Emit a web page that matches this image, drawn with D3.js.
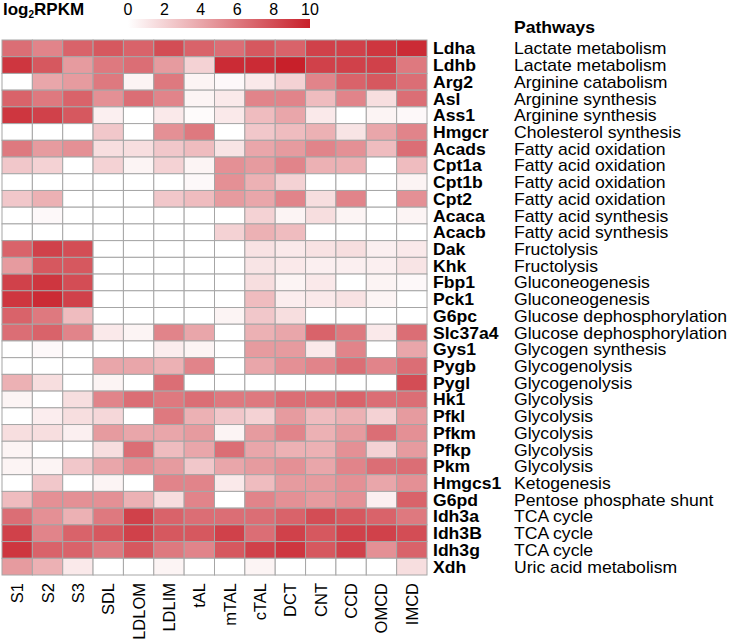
<!DOCTYPE html>
<html>
<head>
<meta charset="utf-8">
<script src="https://cdnjs.cloudflare.com/ajax/libs/d3/7.8.5/d3.min.js"></script>
<style>
  body { margin: 0; background: #fff; }
  text { font-family: "Liberation Sans", Arial, Helvetica, sans-serif; fill: #000; }
</style>
</head>
<body>
<div id="heatmap"></div>
<script>
const tissues = ["S1", "S2", "S3", "SDL", "LDLOM", "LDLIM", "tAL", "mTAL", "cTAL", "DCT", "CNT", "CCD", "OMCD", "IMCD"];

const genes = ["Ldha", "Ldhb", "Arg2", "Asl", "Ass1", "Hmgcr", "Acads", "Cpt1a", "Cpt1b", "Cpt2",
  "Acaca", "Acacb", "Dak", "Khk", "Fbp1", "Pck1", "G6pc", "Slc37a4", "Gys1", "Pygb", "Pygl",
  "Hk1", "Pfkl", "Pfkm", "Pfkp", "Pkm", "Hmgcs1", "G6pd", "Idh3a", "Idh3B", "Idh3g", "Xdh"];

const pathways = ["Lactate metabolism", "Lactate metabolism", "Arginine catabolism", "Arginine synthesis",
  "Arginine synthesis", "Cholesterol synthesis", "Fatty acid oxidation", "Fatty acid oxidation",
  "Fatty acid oxidation", "Fatty acid oxidation", "Fatty acid synthesis", "Fatty acid synthesis",
  "Fructolysis", "Fructolysis", "Gluconeogenesis", "Gluconeogenesis", "Glucose dephosphorylation",
  "Glucose dephosphorylation", "Glycogen synthesis", "Glycogenolysis", "Glycogenolysis",
  "Glycolysis", "Glycolysis", "Glycolysis", "Glycolysis", "Glycolysis", "Ketogenesis",
  "Pentose phosphate shunt", "TCA cycle", "TCA cycle", "TCA cycle", "Uric acid metabolism"];

// log2 RPKM, one row per gene, columns follow tissues
const log2rpkm = [
  [6.5, 5.5, 7, 7.5, 7, 8, 7, 6.5, 7.5, 7, 8.5, 8.5, 9, 9.5],
  [9, 7.5, 4.5, 6, 6.5, 4.5, 2, 9.5, 9.5, 10, 8.5, 8.5, 8.5, 6],
  [0, 4, 4.5, 6, 0.5, 6, 0.5, 0.3, 1, 2, 5.5, 7, 7.5, 6.5],
  [7, 6, 7, 5, 6.5, 5.5, 0.5, 1, 5.5, 5.5, 3, 5.5, 1.5, 6.5],
  [9, 8.5, 7.5, 0.7, 0, 1, 0.2, 1, 3, 4, 1, 0, 0.5, 0.3],
  [0, 0, 0, 2.5, 0, 5, 6, 0, 2.5, 3, 3.5, 1.2, 4, 5.5],
  [6, 4.5, 5, 1.5, 1.5, 2.5, 3, 1.2, 4, 4.5, 5.5, 5, 3, 6.5],
  [2.5, 2, 0, 2, 0.5, 2, 0.5, 5, 4.5, 5.5, 3.5, 3.5, 0, 3],
  [0, 0, 0, 0, 0, 0, 0.3, 5, 3.5, 2, 0, 0, 0, 0.5],
  [2.5, 3.5, 0, 0, 0, 2.5, 3, 4.5, 4, 5.5, 1.5, 5.5, 0, 5],
  [0, 0.3, 0, 0, 0, 0, 0, 0, 2, 0.5, 1.5, 0.5, 0, 0.5],
  [0, 0, 0, 0, 0, 0, 0, 2, 3.5, 3, 0, 0, 0, 0],
  [7, 8.5, 8, 0, 0, 0, 0, 0, 1.3, 1, 1.3, 1.5, 0.7, 1],
  [4.5, 7.5, 7.5, 0, 0, 0, 0, 0, 1.2, 1, 0.7, 0.7, 0.7, 1.2],
  [8.5, 9, 8, 0, 0, 0, 0, 0, 1.5, 0.5, 1, 0, 0.5, 0.3],
  [9, 9.5, 8.5, 0, 0, 0, 0, 0, 3, 0.8, 1, 1.3, 0.5, 0],
  [7, 6, 3, 0, 0, 0, 0, 0.5, 2.5, 1.5, 0, 0, 0, 0],
  [6.5, 7, 5.5, 1, 0.5, 5.5, 4, 0, 3.5, 4, 7, 6, 1, 6.5],
  [0, 0.3, 0, 0, 0, 0.8, 0.5, 0, 4.5, 4.5, 1, 5.5, 0, 4],
  [0, 0, 0, 4, 4, 3.5, 5.5, 0, 4, 5, 5.5, 6.5, 5.5, 6.5],
  [3.5, 1.5, 0, 0.5, 0, 6.5, 0, 0, 0, 0, 0, 0, 0, 8],
  [0.5, 0, 1.5, 5.5, 6.5, 6, 6.5, 6, 6, 6.5, 6.5, 7, 6.5, 6.5],
  [0, 0.8, 1.5, 1.8, 0, 6, 3.5, 2.5, 2, 4.5, 3, 3.5, 2, 4.5],
  [1.5, 1.5, 0.7, 4.5, 4, 4, 4.5, 0.5, 4.5, 5.5, 3.5, 4.5, 6.5, 5],
  [0.5, 0, 0, 1.5, 6.5, 3, 4, 6.5, 4, 3.5, 3.5, 5, 2, 4.5],
  [0.5, 0.5, 2.5, 4, 5, 4.5, 2.5, 4, 4.5, 5, 4, 5.5, 6.5, 6.5],
  [0, 2.5, 0, 0.5, 0, 5.5, 5.5, 1, 3, 4.5, 4.5, 5, 4, 5],
  [3, 5, 5, 5, 3.5, 1.5, 5.5, 0, 5.5, 5, 4.5, 5, 0.7, 7],
  [6.5, 5, 3.5, 6, 8.5, 7, 6.5, 6.5, 6.5, 7, 8, 7.5, 7, 6],
  [8.5, 5.5, 7, 7.5, 8.5, 7.5, 7.5, 8.5, 6.5, 8.5, 7.5, 8.5, 8.5, 8],
  [9, 7, 7, 6, 7.5, 6, 5.5, 7.5, 8.5, 9, 7.5, 8.5, 5, 7],
  [4.5, 3.5, 1, 0, 0, 0.5, 0, 0, 0.5, 0, 0, 0, 0, 1.5]
];

const legendTicks = [0, 2, 4, 6, 8, 10];

const width = 737, height = 644;

const svg = d3.select("#heatmap")
  .append("svg")
    .attr("width", width)
    .attr("height", height);

const x = d3.scaleBand().domain(tissues).range([2, 427]);
const y = d3.scaleBand().domain(genes).range([40, 575]);
const color = d3.scaleLinear().domain([0, 10]).range(["#ffffff", "#c8202a"]).clamp(true);

const cells = [];
log2rpkm.forEach((row, i) => row.forEach((v, j) => cells.push({ gene: genes[i], tissue: tissues[j], value: v })));

svg.append("g")
  .selectAll("rect")
  .data(cells)
  .join("rect")
    .attr("x", d => x(d.tissue))
    .attr("y", d => y(d.gene))
    .attr("width", x.bandwidth())
    .attr("height", y.bandwidth())
    .attr("fill", d => color(d.value))
    .attr("stroke", "#a6a6a6")
    .attr("stroke-width", 1);

// gene names and pathways on the right (type is a little wide in the original)
svg.append("g")
  .attr("transform", "translate(433,0) scale(1.1,1)")
  .selectAll("text")
  .data(genes)
  .join("text")
    .attr("x", 0)
    .attr("y", d => y(d) + y.bandwidth() / 2 + 6)
    .attr("font-size", 16)
    .attr("font-weight", "bold")
    .text(d => d);

const pw = svg.append("g")
  .attr("transform", "translate(514,0) scale(1.1,1)");

pw.selectAll("text.pw")
  .data(pathways)
  .join("text")
    .attr("class", "pw")
    .attr("x", 0)
    .attr("y", (d, i) => y(genes[i]) + y.bandwidth() / 2 + 6)
    .attr("font-size", 16)
    .text(d => d);

pw.append("text")
  .attr("x", 0)
  .attr("y", 33)
  .attr("font-size", 16)
  .attr("font-weight", "bold")
  .text("Pathways");

// column labels, rotated
svg.append("g")
  .selectAll("text")
  .data(tissues)
  .join("text")
    .attr("transform", d => `translate(${x(d) + x.bandwidth() / 2 + 6},583) rotate(-90)`)
    .attr("text-anchor", "end")
    .attr("font-size", 16.5)
    .text(d => d);

// legend
const defs = svg.append("defs");
const grad = defs.append("linearGradient").attr("id", "lg");
grad.selectAll("stop")
  .data(legendTicks)
  .join("stop")
    .attr("offset", d => d / 10)
    .attr("stop-color", d => color(d));

const lx = d3.scaleLinear().domain([0, 10]).range([128, 310]);

svg.append("rect")
  .attr("x", lx(0))
  .attr("y", 19)
  .attr("width", lx(10) - lx(0))
  .attr("height", 9)
  .attr("fill", "url(#lg)");

svg.append("g")
  .selectAll("text")
  .data(legendTicks)
  .join("text")
    .attr("x", d => lx(d))
    .attr("y", 15)
    .attr("text-anchor", "middle")
    .attr("font-size", 16)
    .text(d => d);

const title = svg.append("text")
  .attr("x", 3)
  .attr("y", 15)
  .attr("font-size", 17)
  .attr("font-weight", "bold");
title.append("tspan").text("log");
title.append("tspan").attr("font-size", 10).attr("dy", 3).text("2");
title.append("tspan").attr("dy", -3).text("RPKM");
</script>
</body>
</html>
